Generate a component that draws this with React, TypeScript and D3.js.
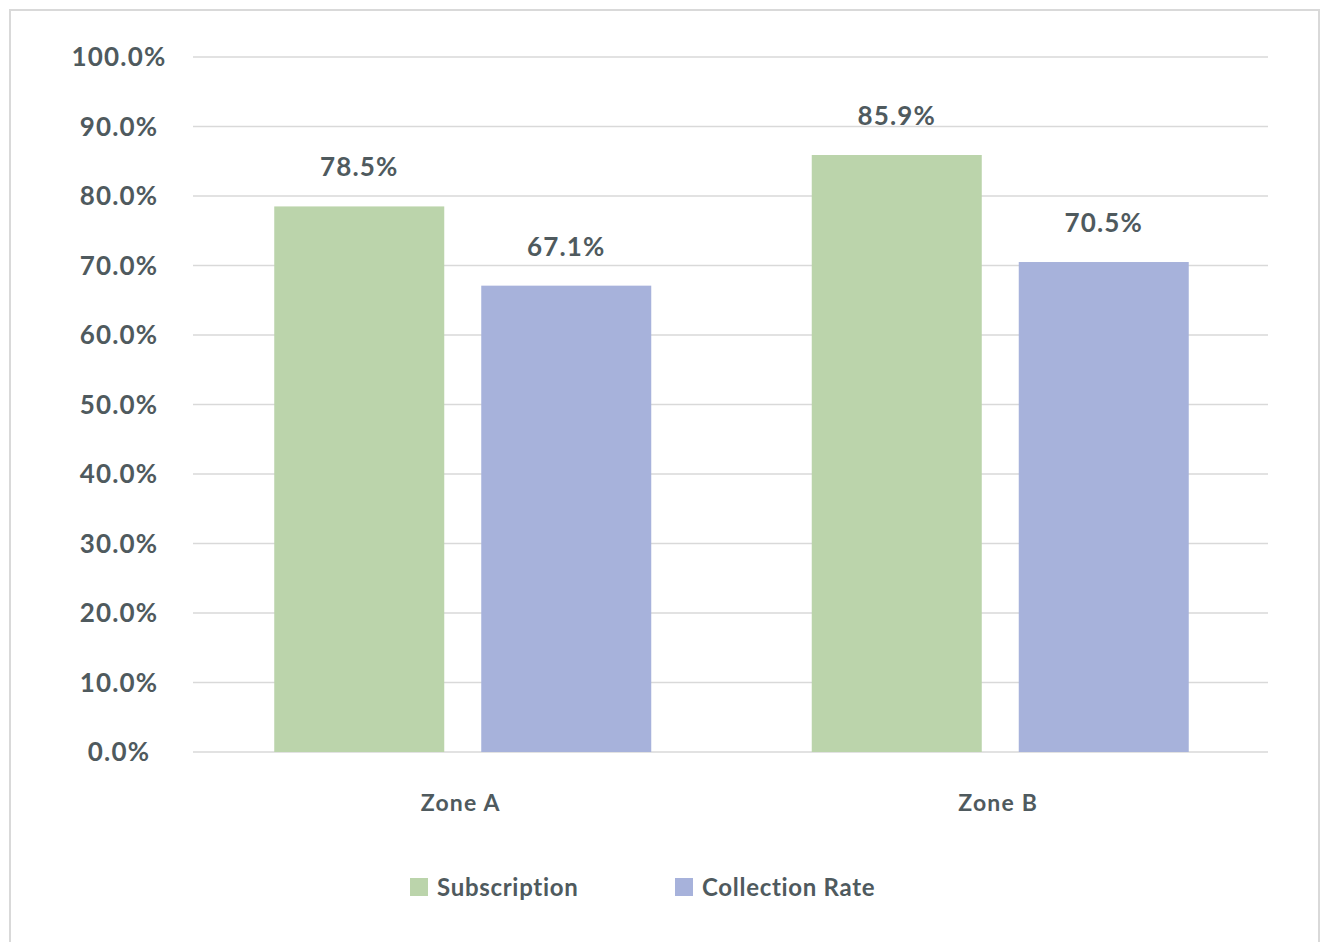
import React from "react";
import * as d3 from "d3";

const categories = ["Zone A", "Zone B"];
const seriesNames = ["Subscription", "Collection Rate"];
const subscription = [78.5, 85.9];
const collectionRate = [67.1, 70.5];
const yTicks = [0, 10, 20, 30, 40, 50, 60, 70, 80, 90, 100];
const colors = ["#bbd4ab", "#a7b2db"];

const W = 1320;
const H = 942;
const plot = { left: 193, right: 1268, top: 57, bottom: 752 };
const textColor = "#4f5a5e";
const font = "Lato, 'Open Sans', sans-serif";

export default function App() {
  const x = d3.scaleBand().domain(categories).range([plot.left, plot.right]).paddingInner(0).paddingOuter(0);
  const groupW = 377;
  const inner = d3.scaleBand().domain(seriesNames).range([0, groupW]).paddingInner(37 / 207).paddingOuter(0);
  const y = d3.scaleLinear().domain([0, 100]).range([plot.bottom, plot.top]);
  const series = [subscription, collectionRate];
  const fmt = (v: number) => v.toFixed(1) + "%";

  return (
    <svg width={W} height={H} style={{ position: "absolute", left: 0, top: 0 }} fontFamily={font}>
      <rect x={10} y={10} width={1309} height={H} fill="#fff" stroke="#d9d9d9" strokeWidth={2} />
      {yTicks.map((t) => (
        <g key={t}>
          <line x1={plot.left} x2={plot.right} y1={y(t)} y2={y(t)} stroke="#d9d9d9" strokeWidth={1.5} />
          <text x={119} y={y(t)} dy="0.35em" textAnchor="middle" fontSize={26} fontWeight={700} letterSpacing={1.2} fill={textColor}>
            {fmt(t)}
          </text>
        </g>
      ))}
      {categories.map((c, ci) => {
        const gx = (x(c) as number) + (x.bandwidth() - groupW) / 2 + 1;
        return (
          <g key={c}>
            {series.map((s, si) => {
              const bx = gx + (inner(seriesNames[si]) as number);
              const bw = inner.bandwidth();
              return (
                <g key={si}>
                  <rect x={bx} y={y(s[ci])} width={bw} height={y(0) - y(s[ci])} fill={colors[si]} />
                  <text x={bx + bw / 2} y={y(s[ci]) - 30} textAnchor="middle" fontSize={26} fontWeight={700} letterSpacing={1.2} fill={textColor}>
                    {fmt(s[ci])}
                  </text>
                </g>
              );
            })}
            <text x={(x(c) as number) + x.bandwidth() / 2 - 1} y={811} textAnchor="middle" fontSize={23} fontWeight={700} letterSpacing={1.2} fill={textColor}>
              {c}
            </text>
          </g>
        );
      })}
      {seriesNames.map((n, i) => {
        const lx = [410, 675][i];
        return (
          <g key={n}>
            <rect x={lx} y={878} width={18} height={18} fill={colors[i]} />
            <text x={lx + 27} y={896} fontSize={24} fontWeight={700} letterSpacing={0.7} fill={textColor}>
              {n}
            </text>
          </g>
        );
      })}
    </svg>
  );
}
